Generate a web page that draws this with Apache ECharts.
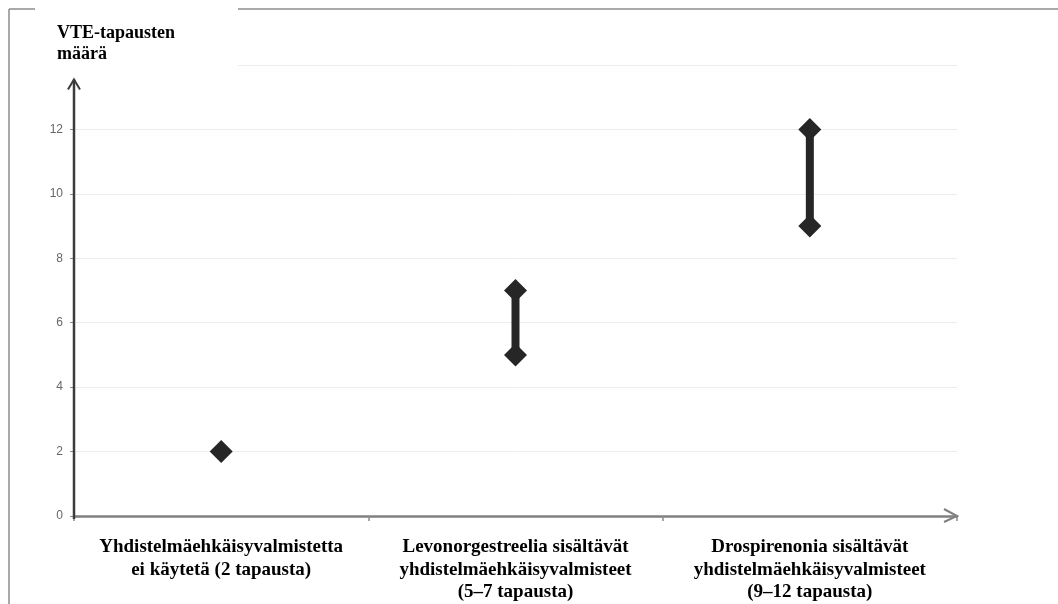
<!DOCTYPE html>
<html>
<head>
<meta charset="utf-8">
<script src="https://cdn.jsdelivr.net/npm/echarts@6/dist/echarts.min.js"></script>
<style>
html,body{margin:0;padding:0;background:#fff;}
#chart{width:1058px;height:604px;}
</style>
</head>
<body>
<div id="chart"></div>
<script>
const categories = [
  'Yhdistelmäehkäisyvalmistetta\nei käytetä (2 tapausta)',
  'Levonorgestreelia sisältävät\nyhdistelmäehkäisyvalmisteet\n(5–7 tapausta)',
  'Drospirenonia sisältävät\nyhdistelmäehkäisyvalmisteet\n(9–12 tapausta)'
];
const lowValues = [2, 5, 9];
const highValues = [2, 7, 12];
const yTicks = [0, 2, 4, 6, 8, 10, 12, 14];
const yTitle = 'VTE-tapausten\nmäärä';

const rangeData = categories.map((c, i) => [i, lowValues[i], highValues[i]]);
const pointData = [];
categories.forEach((c, i) => {
  pointData.push([i, lowValues[i]]);
  if (highValues[i] !== lowValues[i]) pointData.push([i, highValues[i]]);
});

const chart = echarts.init(document.getElementById('chart'));
const GRID = {left: 74, right: 101, top: 65, bottom: 88};

chart.setOption({
  animation: false,
  backgroundColor: '#fff',
  grid: GRID,
  xAxis: {
    type: 'category',
    data: categories,
    boundaryGap: true,
    axisLine: {show: true, lineStyle: {color: '#808080', width: 2.5}},
    axisTick: {show: true, length: 5, lineStyle: {color: '#8c8c8c', width: 1.5}},
    axisLabel: {
      interval: 0, margin: 20, color: '#000', fontFamily: 'Liberation Serif',
      fontWeight: 'bold', fontSize: 19, lineHeight: 22.5, align: 'center'
    },
    splitLine: {show: false}
  },
  yAxis: {
    type: 'value',
    min: yTicks[0],
    max: yTicks[yTicks.length - 1],
    interval: yTicks[1] - yTicks[0],
    axisLine: {show: false},
    axisTick: {show: true, length: 4, lineStyle: {color: '#8c8c8c', width: 1}},
    axisLabel: {
      margin: 11, color: '#666', fontFamily: 'Liberation Sans', fontSize: 12,
      formatter: v => (v === yTicks[yTicks.length - 1] ? '' : String(v))
    },
    splitLine: {show: true, lineStyle: {color: '#ececec', width: 1}}
  },
  series: [
    {
      type: 'custom',
      data: rangeData,
      z: 3,
      renderItem: function (params, api) {
        const x = api.value(0);
        const lo = api.coord([x, api.value(1)]);
        const hi = api.coord([x, api.value(2)]);
        return {
          type: 'line',
          shape: {x1: lo[0], y1: lo[1], x2: hi[0], y2: hi[1]},
          style: {stroke: '#262626', lineWidth: 8}
        };
      }
    },
    {
      type: 'scatter',
      data: pointData,
      symbol: 'diamond',
      symbolSize: [23, 23],
      itemStyle: {color: '#262626', opacity: 1},
      z: 4
    }
  ]
});

// axis decorations derived from the scales
const c0 = chart.convertToPixel({xAxisIndex: 0}, 0);
const c1 = chart.convertToPixel({xAxisIndex: 0}, 1);
const band = c1 - c0;
const axisX = c0 - band / 2;
const rightX = chart.convertToPixel({xAxisIndex: 0}, categories.length - 1) + band / 2;
const y0 = chart.convertToPixel({yAxisIndex: 0}, 0);
const yArrow = chart.convertToPixel({yAxisIndex: 0}, 13.55);

chart.setOption({
  graphic: [
    // outer frame
    {type: 'line', z: 50, shape: {x1: 9, y1: 9, x2: 1058, y2: 9}, style: {stroke: '#8c8c8c', lineWidth: 1.5}},
    {type: 'line', z: 50, shape: {x1: 9, y1: 9, x2: 9, y2: 604}, style: {stroke: '#8c8c8c', lineWidth: 1.5}},
    // title box
    {type: 'rect', z: 60, shape: {x: 35, y: 0, width: 203, height: 70}, style: {fill: '#fff'}},
    {type: 'text', z: 61, left: 57, top: 23, style: {
      text: yTitle, fill: '#000', font: 'bold 18px "Liberation Serif"', lineHeight: 21
    }},
    // y axis line with arrow
    {type: 'line', z: 70, shape: {x1: axisX, y1: y0 + 3, x2: axisX, y2: yArrow}, style: {stroke: '#3c3c3c', lineWidth: 2.5}},
    {type: 'polyline', z: 70, shape: {points: [[axisX - 6, yArrow + 10], [axisX, yArrow], [axisX + 6, yArrow + 10]]},
      style: {stroke: '#3c3c3c', lineWidth: 2, fill: null}},
    // x axis arrow
    {type: 'polyline', z: 70, shape: {points: [[rightX - 13, y0 - 7], [rightX, y0], [rightX - 13, y0 + 6]]},
      style: {stroke: '#808080', lineWidth: 2, fill: null}}
  ]
});
</script>
</body>
</html>
